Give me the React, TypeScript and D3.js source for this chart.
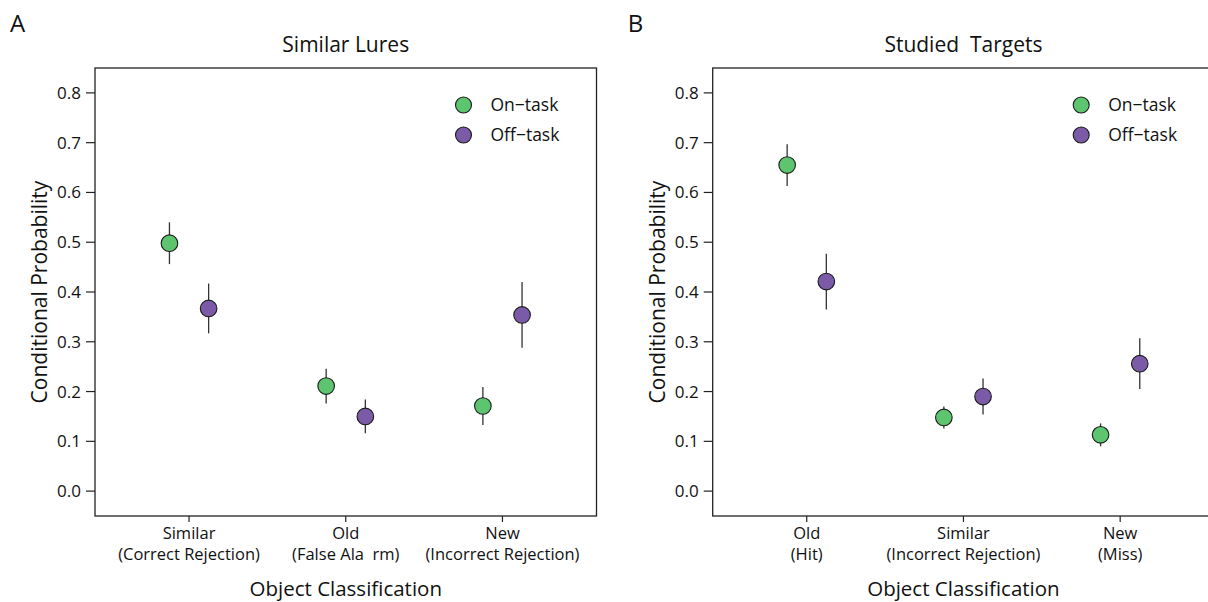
import React from "react";
import * as d3 from "d3";

const panelLabels = ["A", "B"];
const panelTitles = ["Similar Lures", "Studied  Targets"];
const catLinesA = [["Similar", "(Correct Rejection)"], ["Old", "(False Ala  rm)"], ["New", "(Incorrect Rejection)"]];
const catLinesB = [["Old", "(Hit)"], ["Similar", "(Incorrect Rejection)"], ["New", "(Miss)"]];
const seriesNames = ["On\u2212task", "Off\u2212task"];
const seriesColors = ["#5DC470", "#7B5BA8"];

// Panel A values (mean, half error)
const onA = [0.498, 0.211, 0.171];
const onAErr = [0.042, 0.035, 0.038];
const offA = [0.367, 0.150, 0.354];
const offAErr = [0.05, 0.034, 0.066];
// Panel B values
const onB = [0.655, 0.148, 0.113];
const onBErr = [0.042, 0.022, 0.023];
const offB = [0.421, 0.190, 0.256];
const offBErr = [0.056, 0.036, 0.051];

const yTicks = [0, 0.1, 0.2, 0.3, 0.4, 0.5, 0.6, 0.7, 0.8];

const FONT = "'Open Sans', 'Noto Sans', sans-serif";

function Panel({ left, label, title, cats, on, onErr, off, offErr }: any) {
  const top = 68;
  const bottom = 516;
  const width = 501.5;
  const x = d3.scaleLinear().domain([0.4, 3.6]).range([left, left + width]);
  const y = d3.scaleLinear().domain([-0.05, 0.85]).range([bottom, top]);
  const offset = 0.125;
  const series = [
    { vals: on, errs: onErr, dx: -offset, color: seriesColors[0] },
    { vals: off, errs: offErr, dx: offset, color: seriesColors[1] },
  ];
  const cx = x((1 + 3) / 2);
  return (
    <g>
      <text x={left - 85} y={32} fontSize={24} fontFamily={FONT} fill="#111">{label}</text>
      <text x={cx} y={52} fontSize={21} textAnchor="middle" fontFamily={FONT} fill="#111" style={{ whiteSpace: "pre" }}>{title}</text>
      <rect x={left} y={top} width={width} height={bottom - top} fill="none" stroke="#222" strokeWidth={1.3} />
      {yTicks.map((t) => (
        <g key={t}>
          <line x1={left - 9} x2={left} y1={y(t)} y2={y(t)} stroke="#222" strokeWidth={1.2} />
          <text x={left - 14} y={y(t)} dy="0.35em" fontSize={17} textAnchor="end" fontFamily={FONT} fill="#111">{d3.format(".1f")(t)}</text>
        </g>
      ))}
      {cats.map((c: string[], i: number) => (
        <g key={i}>
          <line x1={x(i + 1)} x2={x(i + 1)} y1={bottom} y2={bottom + 6} stroke="#222" strokeWidth={1.2} />
          <text y={539} fontSize={16.5} textAnchor="middle" fontFamily={FONT} fill="#111" style={{ whiteSpace: "pre" }}>
            <tspan x={x(i + 1)}>{c[0]}</tspan>
            <tspan x={x(i + 1)} dy={20.5}>{c[1]}</tspan>
          </text>
        </g>
      ))}
      <text x={cx} y={596} fontSize={20.5} textAnchor="middle" fontFamily={FONT} fill="#111">Object Classification</text>
      <text transform={`translate(${left - 48},${(top + bottom) / 2}) rotate(-90)`} fontSize={21} textAnchor="middle" fontFamily={FONT} fill="#111">Conditional Probability</text>
      {series.map((s, si) => (
        <g key={si}>
          {s.vals.map((v: number, i: number) => (
            <g key={i}>
              <line x1={x(i + 1 + s.dx)} x2={x(i + 1 + s.dx)} y1={y(v - s.errs[i])} y2={y(v + s.errs[i])} stroke="#333" strokeWidth={1.3} />
              <circle cx={x(i + 1 + s.dx)} cy={y(v)} r={8.3} fill={s.color} stroke="#1a1a1a" strokeWidth={1.1} />
            </g>
          ))}
        </g>
      ))}
      {seriesNames.map((n, i) => (
        <g key={n}>
          <circle cx={left + 368.5} cy={105 + i * 30} r={8} fill={seriesColors[i]} stroke="#1a1a1a" strokeWidth={1.1} />
          <text x={left + 395.5} y={105 + i * 30} dy="0.35em" fontSize={17.5} fontFamily={FONT} fill="#111">{n}</text>
        </g>
      ))}
    </g>
  );
}

export default function App() {
  return (
    <svg width={1208} height={602} style={{ position: "absolute", left: 0, top: 0, background: "#fff" }}>
      <rect width={1208} height={602} fill="#fff" />
      <Panel left={95} label={panelLabels[0]} title={panelTitles[0]} cats={catLinesA} on={onA} onErr={onAErr} off={offA} offErr={offAErr} />
      <Panel left={712.7} label={panelLabels[1]} title={panelTitles[1]} cats={catLinesB} on={onB} onErr={onBErr} off={offB} offErr={offBErr} />
    </svg>
  );
}
